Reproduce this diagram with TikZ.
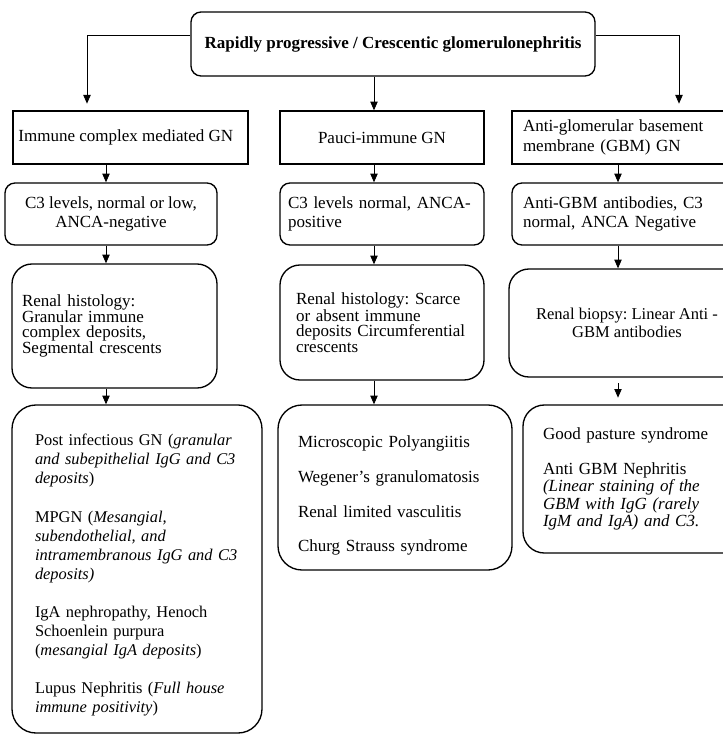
\documentclass[tikz,border=0pt]{standalone}
\usepackage{fontspec}
\setmainfont{Liberation Serif}
\usetikzlibrary{arrows.meta,calc}
\begin{document}
\begin{tikzpicture}[x=0.75pt,y=-0.75pt,
  box/.style={draw, line width=1pt, inner ysep=0pt},
  arr/.style={draw, line width=0.6pt, -{Triangle[width=5.5pt,length=6.5pt]}},
  f/.style={font=\fontsize{12.75pt}{#1}\selectfont\frenchspacing},
  fs/.style 2 args={font=\fontsize{#1}{#2}\selectfont\frenchspacing},
]
\useasboundingbox (0,0) rectangle (722,735);

% top
\node[box, rounded corners=7.5pt, minimum width=303pt, minimum height=48pt, f=15pt, inner xsep=0pt]
  (top) at (393,44) {\textbf{Rapidly progressive / Crescentic glomerulonephritis}};

% level 1
\node[box, minimum width=176.25pt, minimum height=39.75pt, f=15pt, align=center]
  (A1) at (130.5,137.5) {Immune complex mediated GN\hspace*{7pt}};
\node[box, minimum width=153pt, minimum height=39.75pt, f=15pt, align=center]
  (A2) at (382,137.5) {Pauci-immune GN};
\node[box, minimum width=177pt, minimum height=39.75pt, f=15pt, align=left, text width=160.5pt, inner xsep=8.25pt]
  (A3) at (630,137.5) {Anti-glomerular basement\\membrane (GBM) GN};

% level 2
\node[box, rounded corners=7.5pt, minimum width=159pt, minimum height=46.5pt, f=14.5pt, align=center]
  (B1) at (111,214) {C3 levels, normal or low,\\ANCA-negative};
\node[box, rounded corners=7.5pt, minimum width=153pt, minimum height=46.5pt, f=14.5pt, align=left, text width=141pt, inner xsep=6pt]
  (B2) at (382,214) {C3 levels normal, ANCA-\\positive};
\node[box, rounded corners=7.5pt, minimum width=177pt, minimum height=46.5pt, f=14.5pt, align=left, text width=160.5pt, inner xsep=8.25pt]
  (B3) at (630,214) {Anti-GBM antibodies, C3\\normal, ANCA Negative};

% level 3
\node[box, rounded corners=15pt, minimum width=153.75pt, minimum height=93pt, fs={12.75pt}{11.75pt}, align=left, text width=138.75pt, inner xsep=7.5pt]
  (C1) at (114.5,326) {Renal histology:\\Granular immune\\complex deposits,\\Segmental crescents\\[8pt]};
\node[box, rounded corners=15pt, minimum width=153pt, minimum height=86.25pt, fs={12.75pt}{11.5pt}, align=left, text width=129pt, inner xsep=12pt]
  (C2) at (382,322.5) {Renal histology: Scarce\\or absent immune\\deposits Circumferential\\crescents\\[5pt]};
\node[box, rounded corners=15pt, minimum width=177pt, minimum height=81pt, fs={12.4pt}{13pt}, align=center]
  (C3) at (627,323) {Renal biopsy: Linear Anti -\\GBM antibodies};

% level 4
\node[box, rounded corners=18pt, minimum width=187.5pt, minimum height=246pt, fs={12.3pt}{14.3pt}, align=left, text width=153pt, inner xsep=17.25pt]
  (D1) at (137,569) {\rule{0pt}{18pt}\mbox{Post infectious GN (\textit{granular}}\\\mbox{\textit{and subepithelial IgG and C3}}\\\textit{deposits})\\[14.3pt]
  MPGN (\textit{Mesangial,}\\\textit{subendothelial, and}\\\mbox{\textit{intramembranous IgG and C3}}\\\textit{deposits)}\\[14.3pt]
  IgA nephropathy, Henoch\\Schoenlein purpura\\(\textit{mesangial IgA deposits})\\[14.3pt]
  \mbox{Lupus Nephritis (\textit{Full house}}\\\textit{immune positivity})};
\node[box, rounded corners=18pt, minimum width=175.5pt, minimum height=123.75pt, f=13pt, align=left, text width=145.5pt, inner xsep=15pt]
  (D2) at (395,487.5) {\rule{0pt}{21pt}Microscopic Polyangiitis\\[13pt]Wegener's granulomatosis\\[13pt]Renal limited vasculitis\\[13pt]Churg Strauss syndrome};
\node[box, rounded corners=16pt, minimum width=168.75pt, minimum height=111pt, f=13pt, align=left, text width=138.75pt, inner xsep=15pt]
  (D3) at (635.5,479) {Good pasture syndrome\\[13pt]Anti GBM Nephritis\\\textit{(Linear staining of the}\\\textit{GBM with IgG (rarely}\\\textit{IgM and IgA) and C3.}};

% connector columns
\coordinate (xl) at (87,0);
\coordinate (xr) at (679,0);
\coordinate (x1) at (106,0);
\coordinate (x2) at (374,0);
\coordinate (x3) at (618,0);

\draw[arr, shorten >=5pt] ([yshift=6.75pt]top.west) -| (A1.north -| xl);
\draw[arr, shorten >=5pt] ([yshift=6.75pt]top.east) -| (A3.north -| xr);
\draw[arr] (top.south -| x2) -- (A2.north -| x2);

\draw[arr] (A1.south -| x1) -- (B1.north -| x1);
\draw[arr] (B1.south -| x1) -- (C1.north -| x1);
\draw[arr] (C1.south -| x1) -- (D1.north -| x1);

\draw[arr] (A2.south -| x2) -- (B2.north -| x2);
\draw[arr] (B2.south -| x2) -- (C2.north -| x2);
\draw[arr] (C2.south -| x2) -- (D2.north -| x2);

\draw[arr] (A3.south -| x3) -- (B3.north -| x3);
\draw[arr] (B3.south -| x3) -- (C3.north -| x3);
\draw[arr, shorten <=4pt, shorten >=5pt] (C3.south -| x3) -- (D3.north -| x3);
\end{tikzpicture}
\end{document}
